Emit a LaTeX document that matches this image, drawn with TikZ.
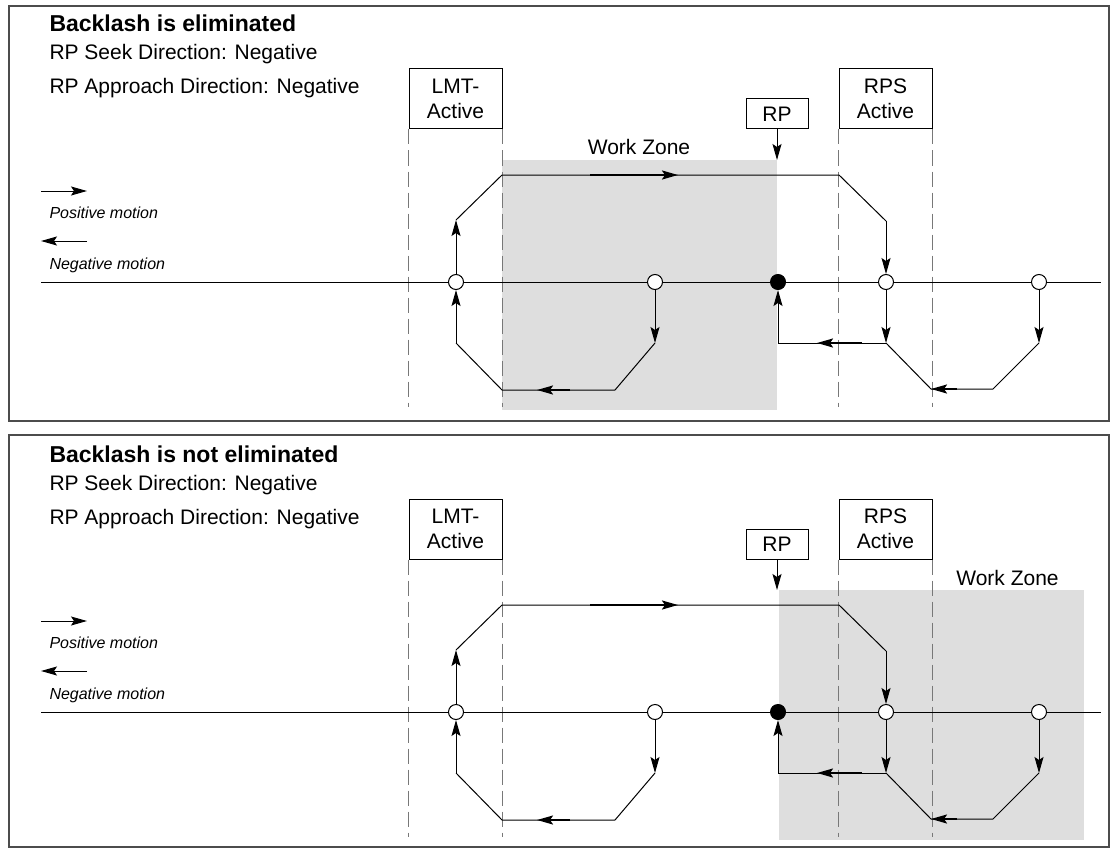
\documentclass[tikz,border=0pt]{standalone}
\usepackage{fontspec}
\setmainfont{Liberation Sans}
\usetikzlibrary{arrows.meta,shapes}
\definecolor{zonegray}{RGB}{222,222,222}
\definecolor{limgray}{RGB}{120,120,120}
\tikzstyle{opt}=[circle,draw,fill=white,line width=1pt,inner sep=0pt,minimum size=15pt]
\tikzstyle{fpt}=[circle,draw,fill=black,line width=1pt,inner sep=0pt,minimum size=15pt]
\tikzstyle{lbox}=[draw,line width=1pt,align=center,inner sep=0pt,font=\fontsize{21}{25}\selectfont]
\tikzstyle{txt}=[anchor=base west,inner sep=0pt,font=\fontsize{21}{25}\selectfont]
\tikzstyle{ttl}=[anchor=base west,inner sep=0pt,font=\bfseries\fontsize{23}{27}\selectfont]
\tikzstyle{leg}=[anchor=base west,inner sep=0pt,font=\itshape\fontsize{16}{19}\selectfont]
\tikzstyle{lim}=[limgray,line width=1pt,dash pattern=on 15pt off 6pt]
\tikzstyle{frame}=[black!70,line width=1.2pt]
\tikzstyle{dgraph}=[-{Stealth[length=16pt,width=9pt,inset=3pt]},line width=1pt]
\tikzstyle{heavy}=[line width=2pt]

\begin{document}
\begin{tikzpicture}[x=1pt,y=-1pt,line width=1pt]
\useasboundingbox (0,0) rectangle (1111,848);

% backlash is eliminated
\draw[frame] (9,6) rectangle (1109,421);
\fill[zonegray] (502,160) rectangle (777,410);
\node[ttl] (tit) at (49,32) {Backlash is eliminated};
\node[txt] (seek) at (49,60) {RP Seek Direction: Negative};
\node[txt] (appr) at (49,94) {RP Approach Direction: Negative};
\node[leg] (posm) at (49,218) {Positive motion};
\node[leg] (negm) at (49,269) {Negative motion};
\coordinate (p0) at (41,191); \coordinate (p1) at (87,191);
\coordinate (n0) at (87,241); \coordinate (n1) at (41,241);
\draw[dgraph] (p0)--(p1);
\draw[dgraph] (n0)--(n1);
\node[lbox,minimum width=93pt,minimum height=60pt] (lmt) at (455.5,99) {LMT-\\Active};
\node[lbox,minimum width=62pt,minimum height=30pt] (rp) at (777,114) {RP};
\node[lbox,minimum width=93pt,minimum height=60pt] (rps) at (885.5,99) {RPS\\Active};
\node[font=\fontsize{21}{25}\selectfont,anchor=base,inner sep=0pt] (wz) at (639,155) {Work Zone};
\draw[lim] (lmt.south west)--(lmt.south west |- 0,407);
\draw[lim] (lmt.south east)--(lmt.south east |- 0,407);
\draw[lim] (rps.south west)--(rps.south west |- 0,407);
\draw[lim] (rps.south east)--(rps.south east |- 0,407);
\coordinate (a0) at (41,282); \coordinate (a1) at (1101,282);
\draw (a0)--(a1);
\node[opt] (c1) at (456,282) {};
\node[opt] (c2) at (655,282) {};
\node[fpt] (rpt) at (778,282) {};
\node[opt] (c3) at (886,282) {};
\node[opt] (c4) at (1039,282) {};
\draw[dgraph] (rp.south)--(777,160);
\draw[dgraph] (c1.north)--(456,220);
\draw (456,220)--(502,175)--(839,175)--(886,221);
\draw[dgraph,heavy] (590,175)--(678,175);
\draw[dgraph] (886,221)--(c3.north);
\draw[dgraph] (c2.south)--(655,343);
\draw (655,343)--(615,390)--(502,390)--(456,343);
\draw[dgraph,heavy] (570,390)--(537,390);
\draw[dgraph] (456,343)--(c1.south);
\draw[dgraph] (c3.south)--(886,343);
\draw (886,343)--(778,343);
\draw[dgraph,heavy] (862,343)--(817,343);
\draw[dgraph] (778,343)--(rpt.south);
\draw[dgraph] (c4.south)--(1039,343);
\draw (1039,343)--(993,389)--(931,389)--(886,343);
\draw[dgraph,heavy] (957,389)--(931,389);

% backlash is not eliminated
\begin{scope}[yshift=-430pt]
\draw[frame] (9,5) rectangle (1109,417);
\fill[zonegray] (779,160) rectangle (1084,410);
\node[ttl] (titb) at (49,32) {Backlash is not eliminated};
\node[txt] (seekb) at (49,60) {RP Seek Direction: Negative};
\node[txt] (apprb) at (49,94) {RP Approach Direction: Negative};
\node[leg] (posmb) at (49,218) {Positive motion};
\node[leg] (negmb) at (49,269) {Negative motion};
\coordinate (p0b) at (41,191); \coordinate (p1b) at (87,191);
\coordinate (n0b) at (87,241); \coordinate (n1b) at (41,241);
\draw[dgraph] (p0b)--(p1b);
\draw[dgraph] (n0b)--(n1b);
\node[lbox,minimum width=93pt,minimum height=60pt] (lmtb) at (455.5,99) {LMT-\\Active};
\node[lbox,minimum width=62pt,minimum height=30pt] (rpb) at (777,114) {RP};
\node[lbox,minimum width=93pt,minimum height=60pt] (rpsb) at (885.5,99) {RPS\\Active};
\node[font=\fontsize{21}{25}\selectfont,anchor=base,inner sep=0pt] (wzb) at (1007.5,155) {Work Zone};
\draw[lim] (lmtb.south west)--(lmtb.south west |- 0,407);
\draw[lim] (lmtb.south east)--(lmtb.south east |- 0,407);
\draw[lim] (rpsb.south west)--(rpsb.south west |- 0,407);
\draw[lim] (rpsb.south east)--(rpsb.south east |- 0,407);
\coordinate (a0b) at (41,282); \coordinate (a1b) at (1101,282);
\draw (a0b)--(a1b);
\node[opt] (c1b) at (456,282) {};
\node[opt] (c2b) at (655,282) {};
\node[fpt] (rptb) at (778,282) {};
\node[opt] (c3b) at (886,282) {};
\node[opt] (c4b) at (1039,282) {};
\draw[dgraph] (rpb.south)--(777,160);
\draw[dgraph] (c1b.north)--(456,220);
\draw (456,220)--(502,175)--(839,175)--(886,221);
\draw[dgraph,heavy] (590,175)--(678,175);
\draw[dgraph] (886,221)--(c3b.north);
\draw[dgraph] (c2b.south)--(655,343);
\draw (655,343)--(615,390)--(502,390)--(456,343);
\draw[dgraph,heavy] (570,390)--(537,390);
\draw[dgraph] (456,343)--(c1b.south);
\draw[dgraph] (c3b.south)--(886,343);
\draw (886,343)--(778,343);
\draw[dgraph,heavy] (862,343)--(817,343);
\draw[dgraph] (778,343)--(rptb.south);
\draw[dgraph] (c4b.south)--(1039,343);
\draw (1039,343)--(993,389)--(931,389)--(886,343);
\draw[dgraph,heavy] (957,389)--(931,389);
\end{scope}
\end{tikzpicture}
\end{document}
